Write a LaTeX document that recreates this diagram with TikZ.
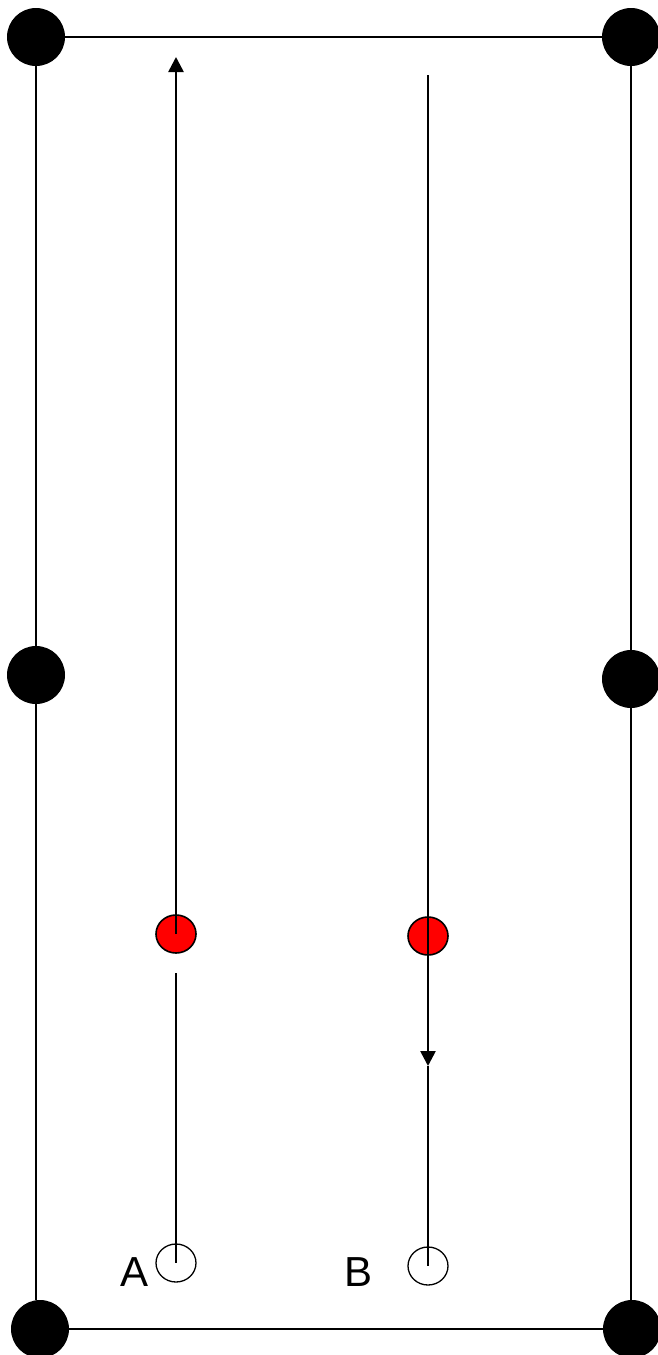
\documentclass[tikz,border=0pt]{standalone}
\usepackage{fontspec}
\setmainfont{Liberation Sans}
\usetikzlibrary{arrows.meta,shapes.geometric}
\begin{document}
\begin{tikzpicture}[x=1pt,y=-1pt,
  post/.style={circle,fill=black,inner sep=0pt,minimum size=58pt},
  redball/.style={ellipse,draw=black,line width=1.6pt,fill=red,inner sep=0pt,minimum width=40pt,minimum height=38pt},
  openball/.style={ellipse,draw=black,line width=1.3pt,fill=none,inner sep=0pt,minimum width=40pt,minimum height=38pt},
  edge/.style={line width=1.8pt,black},
  run/.style={line width=2.6pt,black,-{Triangle[width=15pt,length=15pt]}},
  thin/.style={line width=1.8pt,black},
  lbl/.style={font=\fontsize{42}{42}\selectfont,inner sep=0pt}]
\useasboundingbox (0,0) rectangle (658,1355);
% corner posts
\node[post] (tl) at (36,37) {};
\node[post] (tr) at (631,37) {};
\node[post] (ml) at (36,675) {};
\node[post] (mr) at (631,679) {};
\node[post] (bl) at (40,1329) {};
\node[post] (br) at (632,1329) {};
% field outline
\draw[edge] (tl.east) -- (tr.west);
\draw[edge] (bl.east) -- (br.west);
\draw[edge] (tl.south) -- (ml.north);
\draw[edge] (ml.south) -- (ml.south |- bl.north);
\draw[edge] (tr.south) -- (mr.north);
\draw[edge] (mr.south) -- (mr.south |- br.north);
% players
\node[redball] (ra) at (176,934) {};
\node[redball] (rb) at (428,936) {};
\node[openball] (oa) at (176,1263) {};
\node[openball] (ob) at (428,1266) {};
\node[lbl] (la) at (135,1272) {A};
\node[lbl] (lb) at (359,1272) {B};
% runs
\coordinate (atop) at (176,57);
\coordinate (btop) at (428,75);
\coordinate (bmid) at (428,1066);
\coordinate (alow) at (176,973);
\draw[run] (ra.center) -- (atop);
\draw[run] (btop) -- (bmid);
\draw[thin] (bmid) -- (ob.center);
\draw[thin] (alow) -- (oa.center);
\end{tikzpicture}
\end{document}
